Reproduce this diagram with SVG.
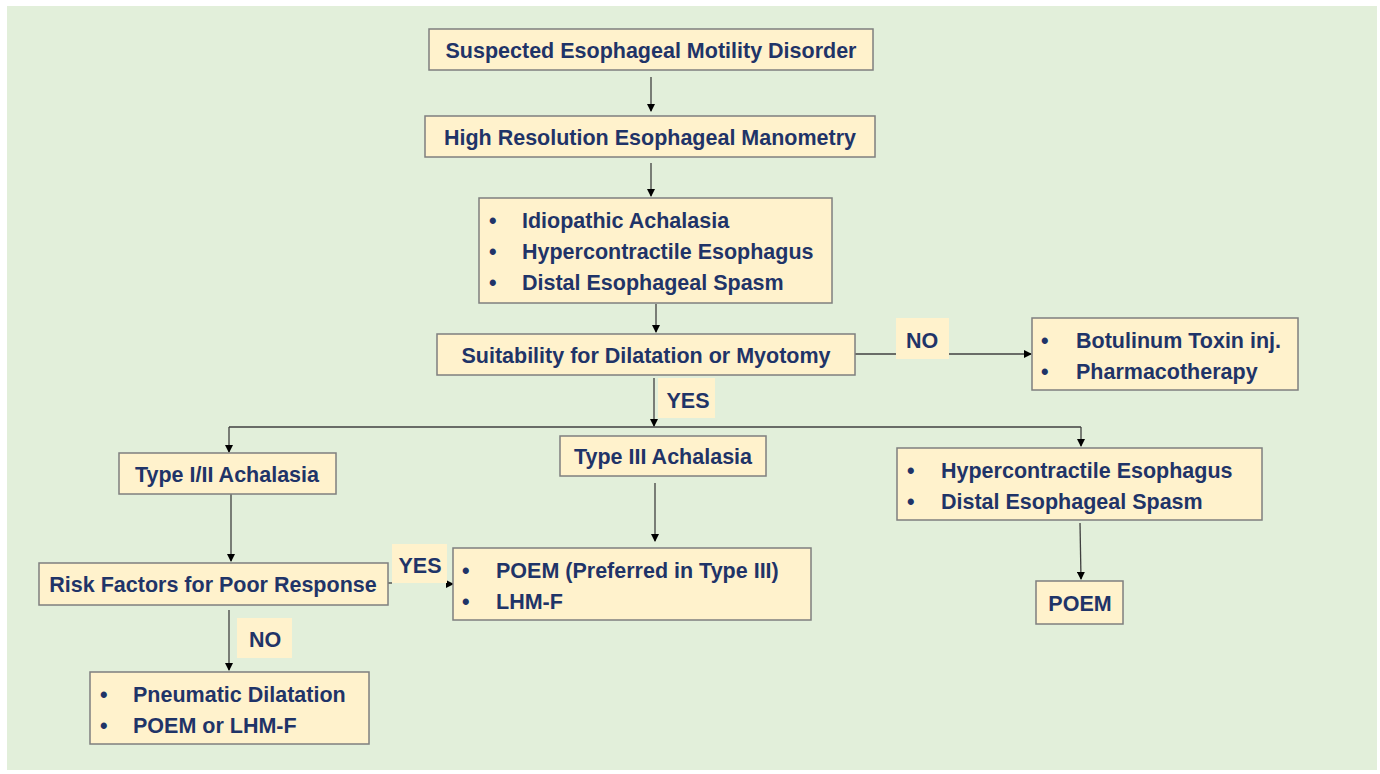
<svg xmlns="http://www.w3.org/2000/svg" width="1380" height="774" viewBox="0 0 1380 774">
<defs>
<marker id="ah" markerWidth="8" markerHeight="8" refX="7" refY="4" orient="auto" markerUnits="userSpaceOnUse">
<path d="M0,0 L8,4 L0,8 Z" fill="#000"/>
</marker>
<style>
.box{fill:#FFF2CC;stroke:#7F7F7F;stroke-width:1.5}
.lbl{fill:#FFF2CC}
.t{font-family:"Liberation Sans",Arial,sans-serif;font-weight:bold;font-size:21.5px;fill:#1F3468}
.c{text-anchor:middle}
.ln{stroke:#404040;stroke-width:1.3;fill:none}
.ar{stroke:#404040;stroke-width:1.3;fill:none;marker-end:url(#ah)}
</style>
</defs>
<rect x="0" y="0" width="1380" height="774" fill="#fff"/>
<rect x="7" y="6" width="1370" height="764" fill="#E2EFDA"/>

<g id="connectors">
<line class="ar" x1="651" y1="77" x2="651" y2="111"/>
<line class="ar" x1="651" y1="163" x2="651" y2="196"/>
<line class="ar" x1="656" y1="304" x2="656" y2="332"/>
<line class="ln" x1="855" y1="354" x2="896" y2="354"/>
<line class="ar" x1="949" y1="354" x2="1031" y2="354"/>
<line class="ar" x1="654" y1="378" x2="654" y2="426"/>
<line class="ln" x1="229" y1="427" x2="1081" y2="427"/>
<line class="ar" x1="229" y1="427" x2="229" y2="452"/>
<line class="ar" x1="1081" y1="427" x2="1081" y2="446"/>
<line class="ar" x1="655" y1="483" x2="655" y2="541"/>
<line class="ar" x1="1080" y1="523" x2="1081" y2="579"/>
<line class="ar" x1="231" y1="494" x2="231" y2="561"/>
<line class="ln" x1="388" y1="583" x2="392" y2="583"/>
<line class="ar" x1="447" y1="584" x2="453" y2="584"/>
<line class="ar" x1="229" y1="610" x2="229" y2="670"/>
</g>

<g id="n1"><rect class="box" x="429" y="29" width="444" height="41"/><text class="t c" x="651" y="58">Suspected Esophageal Motility Disorder</text></g>
<g id="n2"><rect class="box" x="425" y="116" width="450" height="41"/><text class="t c" x="650" y="145">High Resolution Esophageal Manometry</text></g>
<g id="n3"><rect class="box" x="479" y="198" width="353" height="105"/>
<text class="t" x="489" y="228">•</text><text class="t" x="522" y="228">Idiopathic Achalasia</text>
<text class="t" x="489" y="259">•</text><text class="t" x="522" y="259">Hypercontractile Esophagus</text>
<text class="t" x="489" y="290">•</text><text class="t" x="522" y="290">Distal Esophageal Spasm</text></g>
<g id="n4"><rect class="box" x="437" y="334" width="418" height="41"/><text class="t c" x="646" y="363">Suitability for Dilatation or Myotomy</text></g>
<g id="lblNo1"><rect class="lbl" x="896" y="318" width="53" height="41"/><text class="t c" x="922" y="348">NO</text></g>
<g id="n5"><rect class="box" x="1032" y="318" width="266" height="72"/>
<text class="t" x="1041" y="348">•</text><text class="t" x="1076" y="348">Botulinum Toxin inj.</text>
<text class="t" x="1041" y="379">•</text><text class="t" x="1076" y="379">Pharmacotherapy</text></g>
<g id="lblYes1"><rect class="lbl" x="658" y="378" width="57" height="40"/><text class="t c" x="688" y="408">YES</text></g>
<g id="n6"><rect class="box" x="119" y="453" width="217" height="41"/><text class="t c" x="227" y="482">Type I/II Achalasia</text></g>
<g id="n7"><rect class="box" x="560" y="436" width="206" height="40"/><text class="t c" x="663" y="464">Type III Achalasia</text></g>
<g id="n8"><rect class="box" x="897" y="448" width="365" height="72"/>
<text class="t" x="907" y="478">•</text><text class="t" x="941" y="478">Hypercontractile Esophagus</text>
<text class="t" x="907" y="509">•</text><text class="t" x="941" y="509">Distal Esophageal Spasm</text></g>
<g id="n9"><rect class="box" x="1036" y="581" width="87" height="43"/><text class="t c" x="1080" y="611">POEM</text></g>
<g id="n10"><rect class="box" x="39" y="563" width="349" height="42"/><text class="t c" x="213" y="592">Risk Factors for Poor Response</text></g>
<g id="lblYes2"><rect class="lbl" x="392" y="544" width="55" height="39"/><text class="t c" x="420" y="573">YES</text></g>
<g id="n11"><rect class="box" x="453" y="548" width="358" height="72"/>
<text class="t" x="462" y="578">•</text><text class="t" x="496" y="578">POEM (Preferred in Type III)</text>
<text class="t" x="462" y="609">•</text><text class="t" x="496" y="609">LHM-F</text></g>
<g id="lblNo2"><rect class="lbl" x="237" y="618" width="55" height="40"/><text class="t c" x="265" y="647">NO</text></g>
<g id="n12"><rect class="box" x="90" y="672" width="279" height="72"/>
<text class="t" x="100" y="702">•</text><text class="t" x="133" y="702">Pneumatic Dilatation</text>
<text class="t" x="100" y="733">•</text><text class="t" x="133" y="733">POEM or LHM-F</text></g>
</svg>
